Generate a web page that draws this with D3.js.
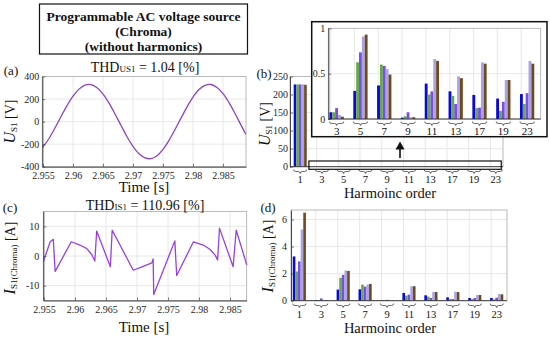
<!DOCTYPE html>
<html>
<head>
<meta charset="utf-8">
<script src="https://cdn.jsdelivr.net/npm/d3@7"></script>
<style>
    body { margin: 0; background: #fff; }
    svg { font-family: "Liberation Serif", "Times New Roman", serif; }
    .tick text { fill: #262626; font-size: 10px; font-family: "Liberation Serif", "Times New Roman", serif; }
    .tick line { stroke: #444; stroke-width: 0.7; }
    .domain { stroke: #333; stroke-width: 0.9; }
    .grid { stroke: #e2e2e2; stroke-width: 0.8; }
</style>
</head>
<body>
<svg id="fig" width="550" height="337"></svg>
<script>
// ---- data ----
var uTime = [2.9549, 2.955, 2.956, 2.957, 2.958, 2.959, 2.960, 2.961, 2.962, 2.963, 2.964,
             2.965, 2.966, 2.967, 2.968, 2.969, 2.970, 2.971, 2.972, 2.973, 2.974, 2.975,
             2.976, 2.977, 2.978, 2.979, 2.980, 2.981, 2.982, 2.983, 2.984, 2.985, 2.986,
             2.987, 2.988, 2.9888];
var uValues = [-230, -224, -150, -55, 45, 142, 226, 288, 323, 328, 300,
               244, 164, 68, -34, -134, -220, -286, -322, -328, -302, -246,
               -166, -70, 31, 131, 218, 284, 322, 329, 303, 248, 168,
               72, -31, -112];
var thdU = "1.04";

var iTime = [2.9549, 2.9560, 2.9565, 2.9568, 2.9594, 2.9608, 2.9619, 2.9627, 2.9632, 2.9635,
             2.9657, 2.9660, 2.9694, 2.9710, 2.9724, 2.9726, 2.9727, 2.9761, 2.9764, 2.9791,
             2.9807, 2.9818, 2.9826, 2.9830, 2.9833, 2.9855, 2.9860, 2.9877];
var iValues = [-1.9, 4.8, 5.6, -5.2, 4.8, 3.7, 2.5, 0.5, -1.7, 8.4,
               -3.6, 8.7, -4.8, -3.5, -2.3, -1.0, -13.0, 5.1, -6.6, 4.8,
               3.7, 2.2, 0.3, -1.3, 9.4, -3.6, 8.7, -3.0];
var thdI = "110.96";

var harmonicOrders = ["1", "3", "5", "7", "9", "11", "13", "17", "19", "23"];
var seriesColors = ["#0a0ad2", "#66aa48", "#7a4ee0", "#aaa4e2", "#6e4a1e"];

// per harmonic order: 5 measurements
var voltageSpectrum = [
    [228, 228, 228, 228, 227],
    [0.074, 0.074, 0.12, 0.045, 0.026],
    [0.31, 0.625, 0.735, 0.91, 0.93],
    [0.37, 0.60, 0.585, 0.55, 0.49],
    [0.015, 0.03, 0.074, 0.02, 0.02],
    [0.39, 0.27, 0.305, 0.66, 0.64],
    [0.305, 0.255, 0.165, 0.47, 0.45],
    [0.265, 0.12, 0.125, 0.625, 0.61],
    [0.225, 0.09, 0.19, 0.43, 0.43],
    [0.275, 0.165, 0.285, 0.64, 0.61]
];
var currentSpectrum = [
    [3.27, 2.16, 2.9, 5.26, 6.5],
    [0.05, 0.05, 0.17, 0.05, 0.02],
    [0.82, 1.69, 1.91, 2.23, 2.2],
    [0.84, 1.19, 1.04, 1.19, 1.24],
    [0.02, 0.03, 0.07, 0.03, 0.02],
    [0.57, 0.37, 0.45, 1.07, 1.07],
    [0.4, 0.3, 0.2, 0.64, 0.64],
    [0.25, 0.12, 0.12, 0.67, 0.64],
    [0.2, 0.12, 0.2, 0.42, 0.42],
    [0.2, 0.1, 0.22, 0.5, 0.47]
];

var timeTicks = [2.955, 2.96, 2.965, 2.97, 2.975, 2.98, 2.985];
var uTicks = [-400, -200, 0, 200, 400];
var iTicks = [-10, 0, 10];
var uHarmTicks = [0, 50, 100, 150, 200, 250];
var iHarmTicks = [0, 2, 4, 6];
var zoomTicks = [0, 0.5, 1];

(function(){
    "use strict";

    var svg = d3.select("#fig");
    var plainFmt = function(d){ return String(+d.toFixed(3)); };

    /*
        light grey box round an axes area
    */
    function drawFrame(b){
        svg.append("rect")
            .attr("x", b.left).attr("y", b.top)
            .attr("width", b.right - b.left).attr("height", b.bottom - b.top)
            .attr("fill", "none").attr("stroke", "#a8a8a8").attr("stroke-width", 0.8);
    }

    function hGrid(b, y, vals){
        vals.forEach(function(v){
            svg.append("line").attr("class", "grid")
                .attr("x1", b.left).attr("x2", b.right)
                .attr("y1", y(v)).attr("y2", y(v));
        });
    }

    function vGrid(b, xs){
        xs.forEach(function(xv){
            svg.append("line").attr("class", "grid")
                .attr("x1", xv).attr("x2", xv)
                .attr("y1", b.top).attr("y2", b.bottom);
        });
    }

    function leftAxis(b, y, ticks, pad){
        svg.append("g")
            .attr("transform", "translate(" + b.left + ",0)")
            .call(d3.axisLeft(y).tickValues(ticks).tickFormat(plainFmt)
                .tickSizeInner(-3).tickSizeOuter(0).tickPadding(pad))
            .attr("font-family", null).attr("font-size", null);
    }

    function bottomAxis(b, x, ticks){
        svg.append("g")
            .attr("transform", "translate(0," + b.bottom + ")")
            .call(d3.axisBottom(x).tickValues(ticks).tickFormat(plainFmt)
                .tickSizeInner(-3).tickSizeOuter(0).tickPadding(5))
            .attr("font-family", null).attr("font-size", null);
    }

    /*
        rotated y label: italic symbol, small subscript, unit
    */
    function yLabel(x, y, sym, sub, unit){
        var t = svg.append("text")
            .attr("transform", "translate(" + x + "," + y + ") rotate(-90)")
            .attr("text-anchor", "middle").attr("fill", "#111");
        t.append("tspan").attr("font-style", "italic").attr("font-size", 16).text(sym);
        t.append("tspan").attr("font-size", 9).attr("dy", 2).text(sub);
        t.append("tspan").attr("font-size", 14).attr("dy", -2).text(" " + unit);
    }

    function thdTitle(x, y, sub, val){
        var t = svg.append("text").attr("x", x).attr("y", y)
            .attr("text-anchor", "middle").attr("fill", "#111").attr("font-size", 14);
        t.append("tspan").text("THD");
        t.append("tspan").attr("font-size", 9).text(sub);
        t.append("tspan").text("  = " + val + " [%]");
    }

    function plainText(x, y, txt, size, extra){
        var t = svg.append("text").attr("x", x).attr("y", y)
            .attr("text-anchor", "middle").attr("dy", "0.35em")
            .attr("font-size", size).attr("fill", "#111").text(txt);
        if(extra){ t.attr("font-weight", extra); }
        return t;
    }

    /*
        small curly brace under a bar group, tip pointing down
    */
    function brace(cx, y, w){
        var l = cx - w / 2, r = cx + w / 2;
        var p = "M" + l + "," + y +
            "Q" + l + "," + (y + 2) + " " + (l + 2) + "," + (y + 2) +
            "L" + (cx - 2) + "," + (y + 2) +
            "Q" + cx + "," + (y + 2) + " " + cx + "," + (y + 4) +
            "Q" + cx + "," + (y + 2) + " " + (cx + 2) + "," + (y + 2) +
            "L" + (r - 2) + "," + (y + 2) +
            "Q" + r + "," + (y + 2) + " " + r + "," + y;
        svg.append("path").attr("d", p).attr("fill", "none")
            .attr("stroke", "#444").attr("stroke-width", 0.8);
    }

    /*
        grouped bars: data[i] is one harmonic, drawn at x(i)
    */
    function drawBars(data, idx, x, y, step){
        var gw = step * 0.6;
        var inner = d3.scaleBand().domain(d3.range(5)).range([-gw / 2, gw / 2]).padding(0);
        idx.forEach(function(i){
            svg.append("g").selectAll("rect")
                .data(data[i])
                .enter().append("rect")
                .attr("x", function(d, j){ return x(i) + inner(j); })
                .attr("width", inner.bandwidth())
                .attr("y", function(d){ return y(d); })
                .attr("height", function(d){ return y(0) - y(d); })
                .attr("fill", function(d, j){ return seriesColors[j]; });
        });
    }

    // ---------- title box ----------
    svg.append("rect").attr("x", 39.5).attr("y", 4).attr("width", 208).attr("height", 50)
        .attr("fill", "#fff").attr("stroke", "#111").attr("stroke-width", 1.2);
    plainText(143.5, 16, "Programmable AC voltage source", 13.5, "bold");
    plainText(143.5, 31.5, "(Chroma)", 13.5, "bold");
    plainText(143.5, 46.5, "(without harmonics)", 13.5, "bold");

    // ---------- (a) voltage waveform ----------
    var bA = {left: 42.3, right: 246, top: 76.5, bottom: 166.7};
    var xA = d3.scaleLinear().domain([2.95488, 2.98883]).range([bA.left, bA.right]);
    var yA = d3.scaleLinear().domain([-400, 400]).range([bA.bottom, bA.top]);
    hGrid(bA, yA, [-200, 0, 200]);
    vGrid(bA, timeTicks.map(xA));
    drawFrame(bA);
    svg.append("path")
        .attr("d", d3.line().x(function(d, i){ return xA(uTime[i]); })
            .y(function(d){ return yA(d); }).curve(d3.curveCatmullRom)(uValues))
        .attr("fill", "none").attr("stroke", "#8a44c8").attr("stroke-width", 1.3);
    leftAxis(bA, yA, uTicks, 3);
    bottomAxis(bA, xA, timeTicks);
    yLabel(15, (bA.top + bA.bottom) / 2, "U", "S1", "[V]");
    thdTitle(145, 72, "US1", thdU);
    plainText(144, 187, "Time [s]", 15);
    plainText(11, 70, "(a)", 13);

    // ---------- (c) current waveform ----------
    var bC = {left: 43.3, right: 246.7, top: 211.5, bottom: 300.5};
    var xC = d3.scaleLinear().domain([2.95489, 2.98769]).range([bC.left, bC.right]);
    var yC = d3.scaleLinear().domain([-15, 15]).range([bC.bottom, bC.top]);
    hGrid(bC, yC, iTicks);
    vGrid(bC, timeTicks.map(xC));
    drawFrame(bC);
    svg.append("path")
        .attr("d", d3.line().x(function(d, i){ return xC(iTime[i]); })
            .y(function(d){ return yC(d); })(iValues))
        .attr("fill", "none").attr("stroke", "#9a40dd").attr("stroke-width", 1.3)
        .attr("stroke-linejoin", "round");
    leftAxis(bC, yC, iTicks, 4);
    bottomAxis(bC, xC, timeTicks);
    yLabel(15, 258, "I", "S1(Chroma)", "[A]");
    thdTitle(145, 210, "IS1", thdI);
    plainText(144, 327, "Time [s]", 15);
    plainText(10, 207, "(c)", 13);

    // ---------- (b) voltage spectrum ----------
    var bB = {left: 290, right: 503, top: 76.5, bottom: 166.7};
    var xB = d3.scaleLinear().domain([-0.47, 9.33]).range([bB.left, bB.right]);
    var yB = d3.scaleLinear().domain([0, 250]).range([bB.bottom, bB.top]);
    var stepB = xB(1) - xB(0);
    hGrid(bB, yB, [50, 100, 150, 200]);
    vGrid(bB, d3.range(1, 10).map(function(i){ return xB(i) - 0.25 * stepB; }));
    drawFrame(bB);
    drawBars(voltageSpectrum, d3.range(10), xB, yB, stepB);
    leftAxis(bB, yB, uHarmTicks, 2);
    svg.append("line").attr("x1", bB.left).attr("x2", bB.right)
        .attr("y1", bB.bottom).attr("y2", bB.bottom).attr("stroke", "#333").attr("stroke-width", 0.9);
    harmonicOrders.forEach(function(h, i){
        brace(xB(i), 169.5, stepB * 0.6);
        plainText(xB(i), 179.5, h, 10.5);
    });
    plainText(390, 193, "Harmoinc order", 14.5);
    yLabel(270, 124, "U", "S1", "[V]");
    plainText(264, 73, "(b)", 13);

    // highlight of the small harmonics and arrow to the zoom
    svg.append("rect")
        .attr("x", xB(1) - 0.6 * stepB).attr("y", 161)
        .attr("width", xB(9) + 0.25 * stepB - (xB(1) - 0.6 * stepB)).attr("height", 8.3)
        .attr("fill", "none").attr("stroke", "#111").attr("stroke-width", 1.2);
    svg.append("line").attr("x1", 400).attr("x2", 400).attr("y1", 158).attr("y2", 148)
        .attr("stroke", "#111").attr("stroke-width", 1.6);
    svg.append("path").attr("d", "M400,141.5L395.5,149.5L404.5,149.5Z").attr("fill", "#111");

    // ---------- zoomed inset of (b) ----------
    svg.append("rect").attr("x", 311.7).attr("y", 21.7).attr("width", 235.3).attr("height", 115)
        .attr("fill", "#fff").attr("stroke", "#111").attr("stroke-width", 1.5);
    var bI = {left: 328.3, right: 540.7, top: 28.3, bottom: 119};
    var xI = d3.scaleLinear().domain([0.65, 9.57]).range([bI.left, bI.right]);
    var yI = d3.scaleLinear().domain([0, 1]).range([bI.bottom, bI.top]);
    var stepI = xI(2) - xI(1);
    hGrid(bI, yI, [0.5]);
    vGrid(bI, d3.range(1, 10).map(function(i){ return xI(i) - 0.25 * stepI; }));
    drawFrame(bI);
    drawBars(voltageSpectrum, d3.range(1, 10), xI, yI, stepI);
    leftAxis(bI, yI, zoomTicks, 3);
    svg.append("line").attr("x1", bI.left).attr("x2", bI.right)
        .attr("y1", bI.bottom).attr("y2", bI.bottom).attr("stroke", "#333").attr("stroke-width", 0.9);
    d3.range(1, 10).forEach(function(i){
        brace(xI(i), 121.5, stepI * 0.6);
        plainText(xI(i), 131.5, harmonicOrders[i], 11);
    });

    // ---------- (d) current spectrum ----------
    var bD = {left: 291, right: 507, top: 210, bottom: 300.7};
    var xD = d3.scaleLinear().domain([-0.38, 9.47]).range([bD.left, bD.right]);
    var yD = d3.scaleLinear().domain([0, 6.7]).range([bD.bottom, bD.top]);
    var stepD = xD(1) - xD(0);
    hGrid(bD, yD, [2, 4, 6]);
    vGrid(bD, d3.range(1, 10).map(function(i){ return xD(i) - 0.25 * stepD; }));
    drawFrame(bD);
    drawBars(currentSpectrum, d3.range(10), xD, yD, stepD);
    leftAxis(bD, yD, iHarmTicks, 4);
    svg.append("line").attr("x1", bD.left).attr("x2", bD.right)
        .attr("y1", bD.bottom).attr("y2", bD.bottom).attr("stroke", "#333").attr("stroke-width", 0.9);
    harmonicOrders.forEach(function(h, i){
        brace(xD(i), 303.5, stepD * 0.6);
        plainText(xD(i), 314, h, 10.5);
    });
    plainText(390, 327.5, "Harmoinc order", 14.5);
    yLabel(273, 256, "I", "S1(Chroma)", "[A]");
    plainText(268, 207, "(d)", 13);
}());
</script>
</body>
</html>
